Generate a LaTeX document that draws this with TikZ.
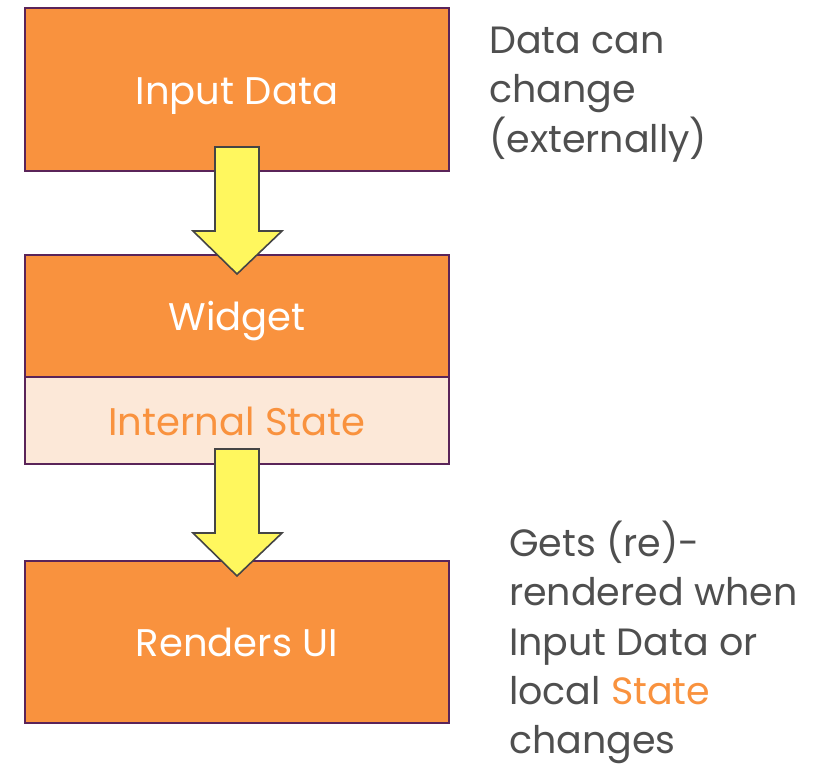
\documentclass[tikz,border=0pt]{standalone}
\usepackage{fontspec}
\setmainfont{Poppins}
\definecolor{boxorange}{HTML}{F9923E}
\definecolor{boxpale}{HTML}{FCE8D8}
\definecolor{boxedge}{HTML}{5A2459}
\definecolor{arrowyellow}{HTML}{FFF75E}
\definecolor{arrowedge}{HTML}{454545}
\definecolor{textgray}{HTML}{4F4F4F}
\begin{document}
\begin{tikzpicture}[x=1pt,y=-1pt,
  block/.style={draw=boxedge, line width=2pt, fill=boxorange, minimum width=424pt,
    inner sep=0pt, text=white, text height=29pt, text depth=0pt,
    font=\fontsize{38.5}{49}\selectfont},
  paleblock/.style={block, fill=boxpale, text=boxorange},
  blockarrow/.style={draw=arrowedge, line width=1.6pt, fill=arrowyellow, line join=miter},
  note/.style={anchor=north west, inner sep=0pt, align=left, text=textgray,
    font=\fontsize{38}{49.2}\selectfont}]
\useasboundingbox (0,0) rectangle (818,764);
\node[block, minimum height=163pt] (input) at (237,89.5) {Input Data};
\node[block, minimum height=122pt] (widget) at (237,316) {Widget};
\node[paleblock, minimum height=87pt] (state) at (237,420.5) {Internal State};
\node[block, minimum height=162pt] (render) at (237,642) {Renders UI};
\draw[blockarrow] (215,147) -- (259,147) -- (259,231) -- (282,231) -- (237,274)
  -- (193,231) -- (215,231) -- cycle;
\draw[blockarrow] (215,449) -- (259,449) -- (259,533) -- (282,533) -- (237,576)
  -- (193,533) -- (215,533) -- cycle;
\node[note] (n1) at (489,27) {Data can\\change\\(externally)};
\node[note] (n2) at (509,521) {Gets (re)-\\rendered when\\Input Data or\\local \textcolor{boxorange}{State}\\changes};
\end{tikzpicture}
\end{document}
